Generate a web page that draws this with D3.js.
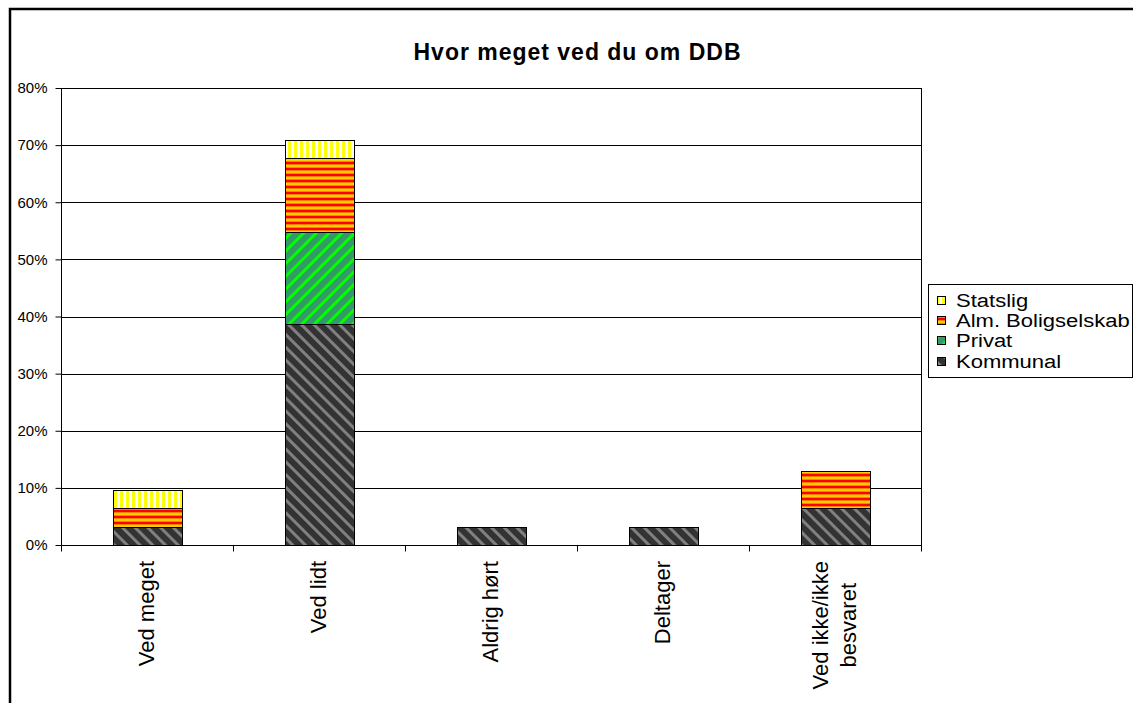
<!DOCTYPE html>
<html>
<head>
<meta charset="utf-8">
<script src="https://cdn.jsdelivr.net/npm/d3@7"></script>
<style>
  html, body { margin: 0; padding: 0; background: #fff; }
  svg { display: block; font-family: "Liberation Sans", Arial, sans-serif; }
</style>
</head>
<body>
<svg id="chart" width="1133" height="703"></svg>
<script>
// ---- data ----
const categories = ["Ved meget", "Ved lidt", "Aldrig hørt", "Deltager", "Ved ikke/ikke besvaret"];
const categoryLines = [["Ved meget"], ["Ved lidt"], ["Aldrig hørt"], ["Deltager"], ["Ved ikke/ikke", "besvaret"]];
const seriesNames = ["Kommunal", "Privat", "Alm. Boligselskab", "Statslig"];
const kommunal = [3.2, 38.7, 3.2, 3.2, 6.5];
const privat = [0, 16.1, 0, 0, 0];
const almBoligselskab = [3.2, 12.9, 0, 0, 6.5];
const statslig = [3.2, 3.2, 0, 0, 0];
const yTicks = [0, 10, 20, 30, 40, 50, 60, 70, 80];
const title = "Hvor meget ved du om DDB";

// ---- setup ----
const svg = d3.select("#chart");
const plot = { left: 61, right: 921, top: 88, bottom: 545 };

const defs = svg.append("defs");
// Statslig: vertical yellow/white stripes
const pS = defs.append("pattern").attr("id", "pStatslig").attr("patternUnits", "userSpaceOnUse")
  .attr("width", 6).attr("height", 6);
pS.append("rect").attr("width", 6).attr("height", 6).attr("fill", "#ffffff");
pS.append("rect").attr("x", 0).attr("width", 3).attr("height", 6).attr("fill", "#ffff00");
// Alm: horizontal red/orange/gold stripes
const pA = defs.append("pattern").attr("id", "pAlm").attr("patternUnits", "userSpaceOnUse")
  .attr("width", 6).attr("height", 6);
pA.append("rect").attr("y", 0).attr("width", 6).attr("height", 2).attr("fill", "#ff0000");
pA.append("rect").attr("y", 2).attr("width", 6).attr("height", 1).attr("fill", "#ff8000");
pA.append("rect").attr("y", 3).attr("width", 6).attr("height", 2).attr("fill", "#ffcc00");
pA.append("rect").attr("y", 5).attr("width", 6).attr("height", 1).attr("fill", "#ff8000");
// Privat: "/" diagonal green/seagreen
const pP = defs.append("pattern").attr("id", "pPrivat").attr("patternUnits", "userSpaceOnUse")
  .attr("width", 9).attr("height", 9).attr("patternTransform", "rotate(45)");
pP.append("rect").attr("width", 9).attr("height", 9).attr("fill", "#339966");
pP.append("rect").attr("width", 3).attr("height", 9).attr("fill", "#00ff00");
// Kommunal: "\" diagonal dark/gray
const pK = defs.append("pattern").attr("id", "pKommunal").attr("patternUnits", "userSpaceOnUse")
  .attr("width", 9).attr("height", 9).attr("patternTransform", "rotate(-45)");
pK.append("rect").attr("width", 9).attr("height", 9).attr("fill", "#333333");
pK.append("rect").attr("width", 3).attr("height", 9).attr("fill", "#808080");

const fills = { "Kommunal": "url(#pKommunal)", "Privat": "url(#pPrivat)", "Alm. Boligselskab": "url(#pAlm)", "Statslig": "url(#pStatslig)" };

// outer frame
svg.append("rect").attr("x", 10).attr("y", 9).attr("width", 1300).attr("height", 900)
  .attr("fill", "none").attr("stroke", "#000").attr("stroke-width", 2.5);

// scales
const x = d3.scaleBand().domain(categories).range([plot.left, plot.right]).paddingInner(0.6).paddingOuter(0.3);
const y = d3.scaleLinear().domain([0, 80]).range([plot.bottom, plot.top]);

// gridlines
svg.append("g").selectAll("line").data(yTicks.filter(d => d > 0)).join("line")
  .attr("x1", plot.left).attr("x2", plot.right)
  .attr("y1", d => Math.round(y(d)) + 0.5).attr("y2", d => Math.round(y(d)) + 0.5)
  .attr("stroke", "#000").attr("stroke-width", 1);
// right border of plot
svg.append("line").attr("x1", plot.right + 0.5).attr("x2", plot.right + 0.5)
  .attr("y1", plot.top).attr("y2", plot.bottom).attr("stroke", "#000");

// stacked data
const table = categories.map((c, i) => ({
  cat: c,
  "Kommunal": kommunal[i], "Privat": privat[i], "Alm. Boligselskab": almBoligselskab[i], "Statslig": statslig[i]
}));
const stack = d3.stack().keys(seriesNames)(table);

svg.append("g").selectAll("g").data(stack).join("g")
  .attr("fill", d => fills[d.key])
  .selectAll("rect").data(d => d.filter(s => s[1] - s[0] > 0)).join("rect")
  .attr("x", d => Math.round(x(d.data.cat)) + 0.5)
  .attr("width", Math.round(x.bandwidth()))
  .attr("y", d => Math.round(y(d[1])) + 0.5)
  .attr("height", d => Math.round(y(d[0])) - Math.round(y(d[1])))
  .attr("stroke", "#000").attr("stroke-width", 1);

// y axis
const yAxis = d3.axisLeft(y).tickValues(yTicks).tickSize(6).tickFormat(d => d + "%");
const ya = svg.append("g").attr("transform", `translate(${plot.left + 0.5},0)`).call(yAxis);
ya.select(".domain").attr("stroke", "#000").attr("d", `M0,${plot.top}V${plot.bottom + 0.5}`);
ya.selectAll(".tick line").attr("stroke", "#000");
ya.selectAll(".tick text").attr("x", -14).attr("font-size", 15).attr("fill", "#000")
  .attr("font-family", "Liberation Sans, Arial, sans-serif");

// x axis
const xa = svg.append("g").attr("transform", `translate(0,${plot.bottom + 0.5})`);
xa.append("line").attr("x1", plot.left).attr("x2", plot.right + 1).attr("stroke", "#000");
const boundaries = categories.map(c => x(c) - x.step() * x.paddingOuter()).concat([plot.right]);
xa.selectAll("line.tk").data(boundaries).join("line").attr("class", "tk")
  .attr("x1", d => Math.round(d) + 0.5).attr("x2", d => Math.round(d) + 0.5)
  .attr("y1", 0).attr("y2", 6).attr("stroke", "#000");

// category labels (rotated)
const labelTop = 561;
categoryLines.forEach((lines, i) => {
  const cx = x(categories[i]) + x.bandwidth() / 2;
  const t = svg.append("text")
    .attr("transform", `translate(${cx},${labelTop}) rotate(-90)`)
    .attr("font-size", 22).attr("fill", "#000").attr("text-anchor", "middle");
  const n = lines.length;
  const spans = lines.map((ln, j) => t.append("tspan").attr("y", (j - (n - 1) / 2) * 28 + 7).text(ln));
  const maxLen = d3.max(spans, s => s.node().getComputedTextLength());
  spans.forEach(s => s.attr("x", -maxLen / 2));
});

// title
svg.append("text").attr("x", 577).attr("y", 60).attr("text-anchor", "middle")
  .attr("font-size", 23).attr("font-weight", "bold").attr("fill", "#000")
  .attr("textLength", 327).attr("lengthAdjust", "spacing")
  .text(title);

// legend
const legend = svg.append("g");
legend.append("rect").attr("x", 928.5).attr("y", 284.5).attr("width", 204).attr("height", 93)
  .attr("fill", "#fff").attr("stroke", "#000");
const legendOrder = seriesNames.slice().reverse();
legendOrder.forEach((name, i) => {
  const cy = 300.5 + i * 20.2;
  legend.append("rect").attr("x", 937.5).attr("y", Math.round(cy - 4.5) + 0.5).attr("width", 8).attr("height", 8)
    .attr("fill", fills[name]).attr("stroke", "#000");
  const t = legend.append("text").attr("x", 956).attr("y", cy + 6.5).attr("font-size", 18).attr("fill", "#000").text(name);
  const natural = t.node().getComputedTextLength();
  t.attr("textLength", natural * 22 / 18).attr("lengthAdjust", "spacingAndGlyphs");
});
</script>
</body>
</html>
